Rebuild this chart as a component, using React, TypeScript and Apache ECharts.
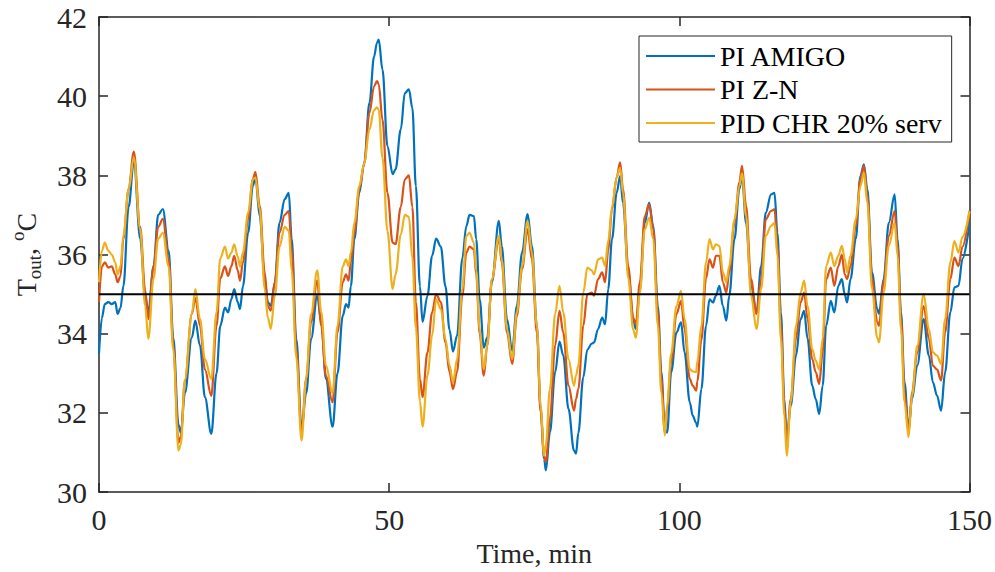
import React, { useEffect, useRef } from "react";
import * as echarts from "echarts";

const timeMin = [
  0, 0.5, 1.0, 1.6, 2.2, 2.8, 3.2, 3.7, 4.2, 5.1, 6.0, 7.1, 7.95, 8.5, 9.4, 10.2, 11.0, 12.0, 12.8, 13.7,
  14.1, 14.8, 16.0, 16.6, 17.4, 18.25, 19.35, 20.25, 20.9, 21.7, 22.25, 22.8, 23.3, 23.9, 24.3, 24.8, 25.7, 26.5, 26.95, 27.7,
  28.55, 29.1, 29.6, 30.3, 31.1, 32.0, 32.7, 33.2, 34.0, 34.9, 35.7, 36.55, 37.6, 38.3, 39.1, 40.25, 41.1, 42.0, 42.56, 43.0,
  43.4, 44.0, 44.85, 45.7, 46.6, 47.4, 47.9, 48.2, 48.85, 49.7, 50.6, 51.1, 52.0, 52.7, 53.4, 54.0, 54.6, 55.3, 55.75, 56.6,
  57.4, 58.1, 58.9, 59.7, 60.4, 61.0, 61.7, 62.6, 63.3, 63.85, 64.6, 65.0, 65.6, 66.3, 66.9, 67.7, 68.9, 69.4, 70.3, 71.2,
  72.0, 72.9, 73.85, 74.6, 75.45, 76.1, 76.7, 77.0, 77.7, 78.6, 79.35, 80.0, 80.9, 81.85, 82.2, 82.6, 83.45, 84.15, 84.9, 85.3,
  86.0, 86.7, 87.2, 87.75, 88.4, 89.2, 89.8, 90.3, 91.2, 92.05, 92.5, 93.2, 94.05, 94.8, 95.5, 96.3, 96.9, 97.5, 97.9, 98.6,
  99.5, 100.3, 100.9, 101.8, 102.3, 102.9, 103.1, 103.8, 104.6, 105.2, 105.8, 106.3, 106.9, 107.5, 108.1, 108.6, 109.5, 110.35, 110.8, 111.5,
  112.35, 113.3, 114.1, 114.9, 115.8, 116.4, 116.9, 117.5, 118.1, 118.5, 119.2, 120.1, 120.9, 121.5, 122.1, 122.9, 123.5, 124.1, 124.7, 125.3,
  126.1, 126.7, 127.4, 128.0, 128.5, 128.9, 129.5, 130.4, 131.2, 131.8, 132.4, 133.2, 134.1, 134.4, 135.2, 136.1, 137.1, 137.6, 138.2, 138.8,
  139.5, 140.1, 141.0, 142.1, 143.0, 143.7, 144.4, 145.1, 145.8, 146.7, 147.4, 148.1, 148.8, 150,
];

const piAmigo = [
  33.5, 34.4, 34.75, 34.8, 34.75, 34.8, 34.5, 34.65, 35.2, 37.2, 38.35, 36.4, 34.96, 34.55, 35.7, 37.0, 37.15, 36.1, 33.9, 31.7,
  31.5, 32.5, 33.9, 34.33, 33.7, 32.4, 31.47, 33.0, 34.2, 34.66, 34.54, 34.87, 35.13, 34.8, 34.62, 35.2, 36.55, 37.73, 37.94, 36.97,
  35.38, 34.8, 34.7, 35.3, 36.8, 37.4, 37.56, 36.4, 33.87, 31.6, 32.5, 33.87, 34.96, 34.3, 32.86, 31.65, 33.0, 34.45, 34.75, 34.66,
  35.2, 36.39, 37.56, 38.3, 39.83, 41.0, 41.35, 41.43, 40.67, 38.74, 38.03, 38.15, 39.16, 40.08, 40.17, 39.7, 37.73, 35.2, 34.3, 34.96,
  35.97, 36.4, 36.2, 35.2, 34.1, 33.55, 33.95, 35.9, 36.72, 37.0, 36.97, 36.39, 34.87, 33.65, 33.9, 35.3, 36.85, 36.22, 34.37, 33.57,
  34.7, 36.05, 37.02, 36.22, 34.2, 32.1, 30.84, 30.55, 31.51, 33.03, 33.8, 33.45, 32.1, 31.05, 30.97, 31.5, 32.9, 33.6, 33.75, 33.78,
  34.12, 34.41, 34.24, 35.13, 36.39, 37.56, 37.98, 37.3, 35.55, 34.37, 34.12, 35.13, 36.8, 37.31, 36.72, 34.7, 33.03, 31.6, 31.5, 33.03,
  34.03, 34.29, 33.53, 32.27, 31.93, 31.75, 31.65, 32.6, 34.2, 34.87, 34.79, 34.96, 35.21, 34.7, 34.33, 34.96, 36.39, 37.65, 37.98, 36.8,
  35.21, 34.54, 35.71, 37.06, 37.52, 37.56, 36.55, 34.54, 32.35, 31.34, 32.18, 33.45, 34.37, 34.58, 33.87, 32.69, 32.35, 31.97, 32.69, 34.2,
  34.83, 34.54, 35.21, 35.38, 35.0, 34.79, 35.38, 36.39, 37.98, 38.28, 37.65, 35.55, 34.62, 34.5, 35.38, 36.8, 37.52, 36.39, 34.54, 32.77,
  31.6, 32.35, 33.2, 34.37, 33.45, 32.77, 32.44, 32.06, 33.03, 34.54, 35.17, 35.21, 35.9, 36.8,
];

const piZN = [
  34.8, 35.7, 35.8, 35.67, 35.7, 35.5, 35.3, 35.45, 36.4, 37.65, 38.6, 36.7, 35.1, 34.37, 35.7, 36.7, 36.9, 35.9, 33.7, 31.25,
  31.4, 32.8, 34.5, 34.9, 34.2, 33.1, 32.43, 34.2, 35.4, 35.7, 35.46, 35.7, 35.97, 35.6, 35.34, 35.8, 36.9, 37.9, 38.08, 37.23,
  35.55, 34.7, 34.58, 35.3, 36.55, 37.0, 37.1, 36.13, 33.6, 31.5, 32.86, 34.3, 35.34, 34.2, 32.94, 32.27, 34.03, 35.3, 35.5, 35.34,
  35.8, 36.55, 37.65, 38.3, 39.58, 40.25, 40.38, 40.3, 39.4, 37.56, 36.3, 36.26, 37.2, 37.9, 38.0, 37.2, 34.8, 32.86, 32.4, 33.53,
  34.54, 35.0, 34.8, 33.78, 33.03, 32.6, 33.03, 34.96, 36.05, 36.2, 36.13, 35.5, 34.0, 32.94, 33.7, 35.38, 36.39, 35.8, 34.03, 33.24,
  34.45, 35.63, 36.64, 35.88, 34.03, 32.02, 30.9, 30.76, 31.85, 33.7, 34.58, 34.03, 32.69, 32.06, 32.35, 32.6, 34.2, 35.0, 35.04, 34.96,
  35.38, 35.55, 35.3, 36.1, 37.15, 37.95, 38.33, 37.65, 35.7, 34.4, 34.24, 35.3, 36.97, 37.27, 36.64, 34.54, 32.86, 31.5, 32.1, 33.3,
  34.5, 34.83, 34.12, 32.86, 32.69, 32.56, 32.8, 33.85, 35.4, 35.88, 35.67, 35.97, 35.97, 35.3, 35.04, 35.55, 36.8, 37.82, 38.24, 37.23,
  35.38, 34.5, 35.38, 36.89, 37.1, 37.14, 36.22, 34.2, 32.18, 31.18, 32.35, 33.87, 34.79, 35.04, 34.37, 33.36, 33.03, 32.73, 33.53, 35.38,
  35.67, 35.21, 35.71, 36.0, 35.5, 35.38, 35.71, 36.72, 37.9, 38.24, 37.48, 35.38, 34.3, 34.2, 35.3, 36.47, 37.1, 36.22, 34.37, 32.52,
  31.51, 32.52, 33.53, 34.7, 33.87, 33.19, 33.1, 32.82, 34.03, 35.38, 35.92, 35.71, 36.2, 37.1,
];

const pidChr = [
  35.3, 36.1, 36.3, 36.1, 36.0, 35.8, 35.5, 35.7, 36.47, 37.65, 38.45, 36.64, 34.7, 33.87, 35.4, 36.4, 36.55, 35.7, 33.6, 31.05,
  31.2, 32.85, 34.5, 35.13, 34.37, 33.36, 32.86, 34.54, 35.9, 36.2, 35.9, 36.05, 36.26, 35.95, 35.7, 36.05, 37.06, 37.9, 37.94, 37.14,
  35.13, 34.4, 34.12, 34.96, 36.2, 36.7, 36.6, 35.6, 33.4, 31.3, 32.86, 34.5, 35.6, 34.54, 33.2, 32.5, 34.2, 35.7, 35.88, 35.71,
  36.05, 36.8, 37.73, 38.3, 39.16, 39.65, 39.72, 39.65, 38.45, 36.6, 35.13, 35.5, 36.5, 37.0, 36.95, 35.9, 34.15, 32.3, 31.65, 32.95,
  33.95, 34.87, 34.62, 33.87, 33.2, 32.77, 33.36, 35.13, 36.47, 36.55, 36.3, 35.6, 34.1, 33.1, 33.7, 35.38, 36.47, 35.88, 34.12, 33.36,
  34.54, 35.71, 36.85, 36.05, 34.2, 32.18, 30.92, 31.2, 32.6, 34.5, 35.21, 34.54, 33.36, 32.69, 32.95, 33.2, 35.04, 35.67, 35.6, 35.5,
  35.88, 35.92, 35.71, 36.35, 37.2, 37.95, 38.19, 37.55, 35.4, 34.1, 33.9, 35.04, 36.64, 36.93, 36.39, 34.2, 32.52, 31.43, 32.2, 33.5,
  34.7, 35.08, 34.37, 33.1, 33.05, 33.03, 33.3, 34.2, 35.8, 36.39, 36.13, 36.26, 36.22, 35.55, 35.3, 35.71, 36.89, 37.73, 38.05, 36.97,
  34.96, 34.12, 35.13, 36.47, 36.72, 36.8, 35.97, 33.87, 31.93, 30.92, 32.27, 34.2, 35.04, 35.34, 34.7, 33.61, 33.32, 33.1, 33.87, 35.71,
  36.05, 35.71, 35.97, 36.22, 35.9, 35.55, 35.97, 36.89, 37.73, 38.07, 37.31, 35.13, 33.9, 33.78, 35.04, 36.22, 36.8, 35.97, 34.12, 32.27,
  31.39, 32.44, 33.7, 35.0, 34.12, 33.53, 33.45, 33.24, 34.37, 35.8, 36.34, 36.05, 36.45, 37.1,
];

const seriesNames = ["PI AMIGO", "PI Z-N", "PID CHR 20% serv"];
const seriesColors = ["#0072BD", "#D95319", "#EDB120"];
const setpointValue = 35;
const timeRange = [0, 150];
const tempRange = [30, 42];

export default function App() {
  const ref = useRef<HTMLDivElement>(null);
  useEffect(() => {
    const chart = echarts.init(ref.current!, null, { renderer: "svg" });
    const font = "Liberation Serif";
    const axisColor = "#262626";
    const pair = (v: number[]) => timeMin.map((t, i) => [t, v[i]]);
    const axisLine = { show: true, onZero: false, lineStyle: { color: axisColor, width: 1.5 } };
    const axisTick = { show: true, inside: true, length: 9, lineStyle: { color: axisColor, width: 1.5 } };
    const labelStyle = { fontFamily: font, fontSize: 30, color: axisColor, margin: 12 };
    const lines = [piAmigo, piZN, pidChr].map((vals, i) => ({
      name: seriesNames[i],
      type: "line",
      data: pair(vals),
      showSymbol: false,
      symbol: "none",
      smooth: 0.35,
      smoothMonotone: "x",
      lineStyle: { color: seriesColors[i], width: 2.2 },
      itemStyle: { color: seriesColors[i] },
      z: 2 + i,
    }));
    chart.setOption({
      animation: false,
      textStyle: { fontFamily: font },
      grid: { left: 96, right: 25, top: 17, bottom: 79, containLabel: false },
      xAxis: [
        {
          type: "value",
          min: timeRange[0],
          max: timeRange[1],
          interval: 50,
          position: "bottom",
          name: "Time, min",
          nameLocation: "middle",
          nameGap: 42,
          nameTextStyle: { fontFamily: font, fontSize: 28, color: axisColor, lineHeight: 28 },
          axisLine,
          axisTick,
          axisLabel: labelStyle,
          splitLine: { show: false },
        },
        {
          type: "value",
          min: timeRange[0],
          max: timeRange[1],
          interval: 50,
          position: "top",
          axisLine,
          axisTick,
          axisLabel: { show: false },
          splitLine: { show: false },
        },
      ],
      yAxis: [
        {
          type: "value",
          min: tempRange[0],
          max: tempRange[1],
          interval: 2,
          position: "left",
          name: "{a|T}{b|out}{a|, }{c|o}{a|C}",
          nameLocation: "middle",
          nameRotate: 90,
          nameGap: 55,
          nameTextStyle: {
            fontFamily: font,
            rich: {
              a: { fontFamily: font, fontSize: 28, color: axisColor, lineHeight: 36, verticalAlign: "middle" },
              b: { fontFamily: font, fontSize: 19, color: axisColor, lineHeight: 19, verticalAlign: "bottom" },
              c: { fontFamily: font, fontSize: 19, color: axisColor, lineHeight: 19, verticalAlign: "top" },
            },
          },
          axisLine,
          axisTick,
          axisLabel: labelStyle,
          splitLine: { show: false },
        },
        {
          type: "value",
          min: tempRange[0],
          max: tempRange[1],
          interval: 2,
          position: "right",
          axisLine,
          axisTick,
          axisLabel: { show: false },
          splitLine: { show: false },
        },
      ],
      legend: {
        data: seriesNames,
        orient: "vertical",
        left: 639,
        top: 36,
        icon: "rect",
        itemWidth: 69,
        itemHeight: 2,
        itemGap: 3.5,
        padding: [5, 10, 4, 7],
        borderColor: axisColor,
        borderWidth: 1,
        backgroundColor: "#ffffff",
        textStyle: { fontFamily: font, fontSize: 28, color: "#000", lineHeight: 30 },
      },
      series: [
        ...lines,
        {
          name: "setpoint",
          type: "line",
          data: [
            [timeRange[0], setpointValue],
            [timeRange[1], setpointValue],
          ],
          showSymbol: false,
          symbol: "none",
          lineStyle: { color: "#000", width: 2 },
          z: 6,
        },
      ],
    });
    return () => chart.dispose();
  }, []);
  return <div ref={ref} style={{ position: "absolute", left: 0, top: 0, width: 995, height: 572 }} />;
}
